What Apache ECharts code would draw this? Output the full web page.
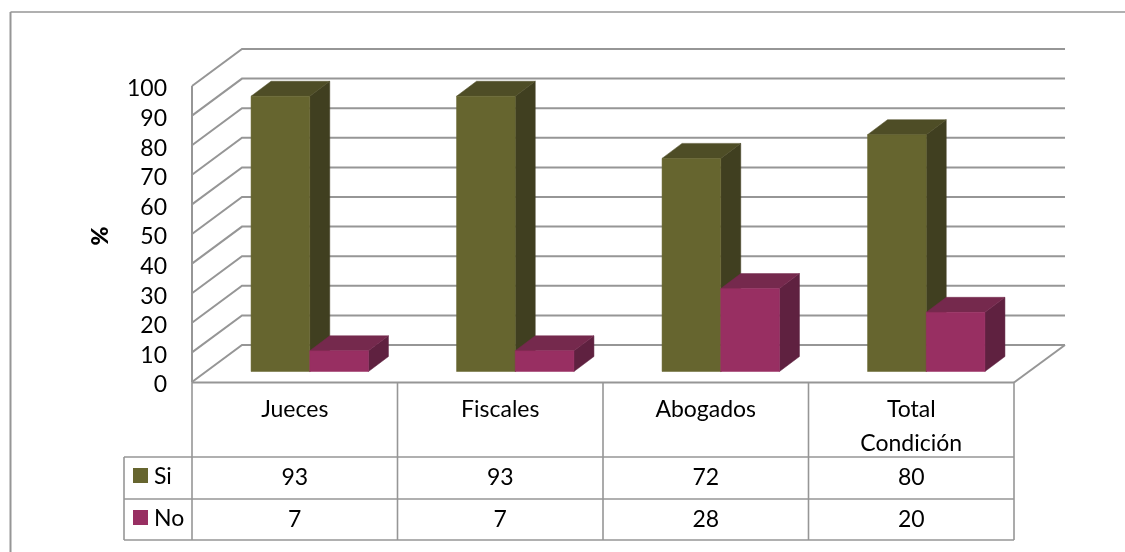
<!DOCTYPE html>
<html><head><meta charset="utf-8">
<script src="https://cdn.jsdelivr.net/npm/echarts@6/dist/echarts.min.js"></script>
<style>html,body{margin:0;padding:0;background:#fff}#c{width:1125px;height:552px}</style>
</head><body><div id="c"></div>
<script>
const categories = ['Jueces', 'Fiscales', 'Abogados', 'Total\nCondición'];
const siValues = [93, 93, 72, 80];
const noValues = [7, 7, 28, 20];
const seriesNames = ['Si', 'No'];
const yTicks = [0,10,20,30,40,50,60,70,80,90,100];

const FONT = 'Lato';
const FS = 23;
const GRID = {left:192, top:86, width:822, height:296};
const LINE = '#969696';
const DEPTH = {x:50, y:-37};
const BAR_OFF = {x:15, y:-10.5};
const BAR_D = {x:20, y:-15};
const ROWS = [383, 457, 499, 540];
const LEGX = 124;

const faces = [
  {front:'#66652F', top:'#4E4D26', side:'#403F20'},
  {front:'#982F62', top:'#75294D', side:'#5F2140'}
];
const barW = 58.7;

function barSeries(name, values, idx){
  return {
    type:'custom', name, z:5+idx, clip:false,
    data: values.map((v,i)=>[i,v]),
    renderItem(params, api){
      const c0 = api.coord([api.value(0), 0]);
      const c1 = api.coord([api.value(0), api.value(1)]);
      const x0 = c0[0] + BAR_OFF.x + (idx-1)*barW, x1 = x0 + barW;
      const yb = c0[1] + BAR_OFF.y, yt = c1[1] + BAR_OFF.y;
      const dx = BAR_D.x, dy = BAR_D.y, f = faces[idx];
      const poly = (pts, col)=>({type:'polygon', shape:{points:pts}, style:{fill:col, stroke:col, lineWidth:0.5}});
      return {type:'group', children:[
        poly([[x1,yb],[x1+dx,yb+dy],[x1+dx,yt+dy],[x1,yt]], f.side),
        poly([[x0,yt],[x0+dx,yt+dy],[x1+dx,yt+dy],[x1,yt]], f.top),
        poly([[x0,yb],[x1,yb],[x1,yt],[x0,yt]], f.front)
      ]};
    }
  };
}

const wallSeries = {
  type:'custom', name:'walls', z:1, clip:false, silent:true,
  data: yTicks.map(v=>[0,v]),
  renderItem(params, api){
    const p = api.coord([0, api.value(1)]);
    const x = GRID.left, y = p[1];
    const right = GRID.left + GRID.width;
    return {type:'polyline', shape:{points:[[x,y],[x+DEPTH.x,y+DEPTH.y],[right+DEPTH.x+1,y+DEPTH.y]]},
      style:{stroke:LINE, lineWidth:2, fill:null}};
  }
};

// data table + frame, built from the arrays
const g = [];
const ln = (x1,y1,x2,y2,w)=>g.push({type:'line', z:2, shape:{x1,y1,x2,y2}, style:{stroke:LINE, lineWidth:w||1.6}});
const colW = GRID.width/categories.length;
ln(10.5,12,1125,12,1.5); ln(10.5,12,10.5,552,2);
ln(192,382.5,1014,382.5,2);
ln(1014,382.5,1065,345,2);
ln(192,86,192,382,2);
for(let i=0;i<=categories.length;i++){ const x=192+i*colW; ln(x,382,x,ROWS[3]); }
ln(LEGX,ROWS[1],LEGX,ROWS[3]);
ln(LEGX,ROWS[1],1014,ROWS[1]); ln(LEGX,ROWS[2],1014,ROWS[2]); ln(LEGX,ROWS[3],1014,ROWS[3]);
const txt=(t,x,y,align)=>g.push({type:'text', z:3, style:{text:String(t), x, y, align:align||'center', verticalAlign:'middle', font:FS+'px '+FONT, fill:'#000'}});
[siValues,noValues].forEach((vals,r)=>{
  const y=(ROWS[r+1]+ROWS[r+2])/2;
  vals.forEach((v,i)=>txt(v,192+(i+.5)*colW,y));
  g.push({type:'rect', z:3, shape:{x:133,y:y-7.5-(r?2:2.5),width:15,height:15}, style:{fill:faces[r].front}});
  txt(seriesNames[r],154,y-1,'left');
});
g.push({type:'text', z:3, rotation:Math.PI/2, x:101, y:236, style:{text:'%', align:'center', verticalAlign:'middle', font:'900 23px '+FONT, fill:'#000'}});

const chart = echarts.init(document.getElementById('c'), null, {renderer:'canvas'});
chart.setOption({
  animation:false, backgroundColor:'#fff',
  grid:{left:GRID.left, top:GRID.top, width:GRID.width, height:GRID.height},
  xAxis:{type:'category', data:categories, axisLine:{show:false}, axisTick:{show:false},
    axisLabel:{interval:0, margin:11, fontFamily:FONT, fontSize:FS, color:'#000', lineHeight:34, verticalAlign:'top'}},
  yAxis:{type:'value', min:0, max:100, interval:10, axisLine:{show:false}, axisTick:{show:false}, splitLine:{show:false},
    axisLabel:{margin:25, fontFamily:FONT, fontSize:FS, color:'#000', verticalAlign:'top', lineHeight:6}},
  series:[wallSeries, barSeries(seriesNames[0],siValues,0), barSeries(seriesNames[1],noValues,1)],
  graphic:{elements:g}
});
</script></body></html>
